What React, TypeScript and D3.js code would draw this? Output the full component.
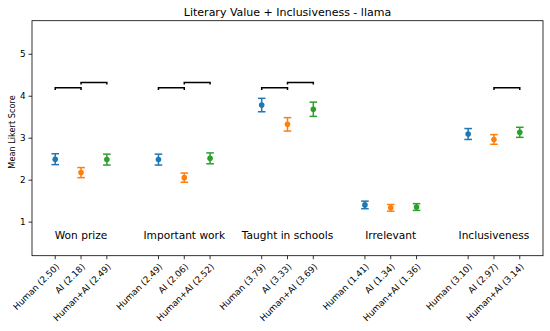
import React from "react";
import * as d3 from "d3";

const groups = ["Won prize", "Important work", "Taught in schools", "Irrelevant", "Inclusiveness"];
const conditions = ["Human", "AI", "Human+AI"];
const means = [
  [2.50, 2.18, 2.49],
  [2.49, 2.06, 2.52],
  [3.79, 3.33, 3.69],
  [1.41, 1.34, 1.36],
  [3.10, 2.97, 3.14],
];
const errs = [
  [0.13, 0.12, 0.13],
  [0.13, 0.11, 0.13],
  [0.16, 0.16, 0.17],
  [0.09, 0.08, 0.08],
  [0.13, 0.115, 0.12],
];
// brackets: [group, fromCond, toCond, height]
const brackets: [number, number, number, number][] = [
  [0, 0, 1, 4.2], [0, 1, 2, 4.33],
  [1, 0, 1, 4.2], [1, 1, 2, 4.33],
  [2, 0, 1, 4.2], [2, 1, 2, 4.33],
  [4, 1, 2, 4.2],
];
const yTicks = [1, 2, 3, 4, 5];
const colors = ["#1f77b4", "#ff7f0e", "#2ca02c"];
const title = "Literary Value + Inclusiveness - llama";
const yLabel = "Mean Likert Score";

const W = 550, H = 331;
const left = 32, right = 543, top = 20.7, bottom = 255.7;
const font = "DejaVu Sans, sans-serif";

export default function App() {
  const x = d3.scaleLinear().domain([-0.9, 18.9]).range([left, right]);
  const y = d3.scaleLinear().domain([0.2, 5.8]).range([bottom, top]);
  const pos = (g: number, c: number) => g * 4 + c;

  const pts = means.flatMap((row, g) => row.map((m, c) => ({ g, c, m, e: errs[g][c] })));

  return (
    <svg width={W} height={H} style={{ position: "absolute", left: 0, top: 0, background: "#fff" }} fontFamily={font}>
      <rect x={0} y={0} width={W} height={H} fill="#fff" />
      <text x={(left + right) / 2} y={16} textAnchor="middle" fontSize={11} fill="#000">{title}</text>
      {/* y ticks */}
      {yTicks.map((t) => (
        <g key={t}>
          <line x1={left - 3.5} x2={left} y1={y(t)} y2={y(t)} stroke="#000" strokeWidth={0.8} />
          <text x={left - 6.5} y={y(t)} dy="0.35em" textAnchor="end" fontSize={8.8} fill="#000">{t}</text>
        </g>
      ))}
      <text transform={`translate(12.5,132) rotate(-90)`} textAnchor="middle" dy="0.35em" fontSize={8.2} fill="#000">{yLabel}</text>
      {/* x ticks */}
      {pts.map((p) => {
        const px = x(pos(p.g, p.c));
        return (
          <g key={`t${p.g}-${p.c}`}>
            <line x1={px} x2={px} y1={bottom} y2={bottom + 3.5} stroke="#000" strokeWidth={0.8} />
            <text transform={`translate(${px + 4.6},${bottom + 11.6}) rotate(-45)`} textAnchor="end" fontSize={8.8} fill="#000">
              {`${conditions[p.c]} (${p.m.toFixed(2)})`}
            </text>
          </g>
        );
      })}
      {/* group labels */}
      {groups.map((gname, g) => (
        <text key={gname} x={x(pos(g, 1))} y={y(0.69)} dy="0.35em" textAnchor="middle" fontSize={10.6} fill="#000">{gname}</text>
      ))}
      {/* brackets */}
      {brackets.map(([g, a, b, h], i) => {
        const x1 = x(pos(g, a)), x2 = x(pos(g, b));
        const yh = y(h), yl = y(h - 0.05);
        return (
          <path key={`b${i}`} d={`M${x1},${yl}L${x1},${yh}L${x2},${yh}L${x2},${yl}`} fill="none" stroke="#000" strokeWidth={1.5} />
        );
      })}
      {/* error bars */}
      {pts.map((p) => {
        const px = x(pos(p.g, p.c));
        const col = colors[p.c];
        return (
          <g key={`e${p.g}-${p.c}`}>
            <line x1={px} x2={px} y1={y(p.m - p.e)} y2={y(p.m + p.e)} stroke={col} strokeWidth={1.5} />
            <line x1={px - 3.8} x2={px + 3.8} y1={y(p.m - p.e)} y2={y(p.m - p.e)} stroke={col} strokeWidth={1.5} />
            <line x1={px - 3.8} x2={px + 3.8} y1={y(p.m + p.e)} y2={y(p.m + p.e)} stroke={col} strokeWidth={1.5} />
            <circle cx={px} cy={y(p.m)} r={2.8} fill={col} />
          </g>
        );
      })}
      <rect x={left} y={top} width={right - left} height={bottom - top} fill="none" stroke="#000" strokeWidth={0.8} />
    </svg>
  );
}
